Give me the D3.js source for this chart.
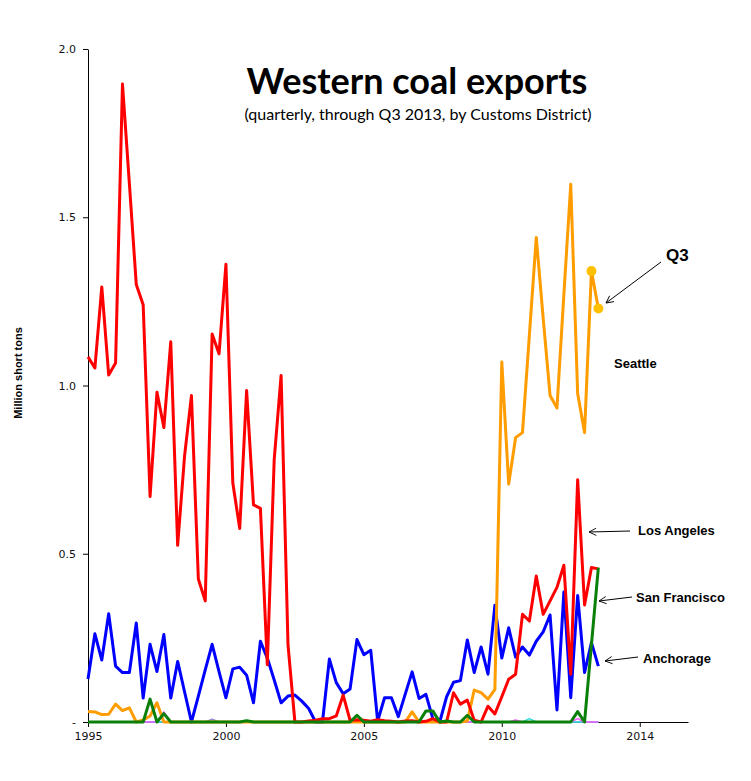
<!DOCTYPE html>
<html>
<head>
<meta charset="utf-8">
<script src="https://cdn.jsdelivr.net/npm/d3@7"></script>
<style>
  body { margin: 0; background: #fff; }
</style>
</head>
<body>
<div id="chart"></div>
<script>
// Quarterly categories, 1995Q1 .. 2016Q4 (axis runs past the data like the original)
var quarters = d3.range(1995, 2017).flatMap(y => [1, 2, 3, 4].map(q => y + "Q" + q));

// Tick labels shown every 20 quarters
var tickLabels = ["1995", "2000", "2005", "2010", "2014"];

// Million short tons, 1995Q1 .. 2013Q3
var seattle = [0.031, 0.030, 0.022, 0.023, 0.053, 0.034, 0.042, 0.000, 0.006, 0.018,
    0.057, 0.000, 0, 0, 0, 0, 0, 0, 0, 0,
    0, 0, 0, 0, 0, 0, 0, 0, 0, 0,
    0, 0, 0, 0, 0, 0, 0, 0, 0, 0,
    0, 0, 0, 0, 0, 0, 0, 0.030, 0, 0,
    0, 0, 0, 0, 0, 0.003, 0.095, 0.087, 0.068, 0.097,
    1.070, 0.707, 0.845, 0.860, 1.150, 1.440, 1.200, 0.970, 0.933, 1.270,
    1.598, 0.976, 0.860, 1.340, 1.229];

var losAngeles = [1.085, 1.052, 1.293, 1.031, 1.067, 1.896, 1.600, 1.300, 1.240, 0.670,
    0.980, 0.875, 1.130, 0.525, 0.790, 0.970, 0.425, 0.360, 1.153, 1.094,
    1.360, 0.710, 0.575, 0.985, 0.645, 0.635, 0.170, 0.780, 1.030, 0.230,
    0.000, 0.000, 0.003, 0.005, 0.010, 0.010, 0.018, 0.080, 0.005, 0.007,
    0.005, 0.002, 0.007, 0.004, 0.002, 0.000, 0.003, 0.004, 0.000, 0.002,
    0.010, 0.000, 0.000, 0.087, 0.053, 0.065, 0.005, 0.000, 0.047, 0.024,
    0.075, 0.127, 0.142, 0.320, 0.300, 0.434, 0.320, 0.360, 0.400, 0.466,
    0.142, 0.720, 0.348, 0.459, 0.455];

var anchorage = [0.128, 0.262, 0.184, 0.322, 0.166, 0.147, 0.147, 0.294, 0.071, 0.231,
    0.150, 0.260, 0.071, 0.180, 0.090, 0.000, 0.077, 0.155, 0.231, 0.150,
    0.072, 0.158, 0.163, 0.139, 0.057, 0.240, 0.190, 0.125, 0.057, 0.077,
    0.080, 0.062, 0.040, 0.000, 0.000, 0.187, 0.117, 0.084, 0.098, 0.245,
    0.200, 0.213, 0.003, 0.072, 0.072, 0.016, 0.083, 0.149, 0.070, 0.082,
    0.010, 0.000, 0.075, 0.118, 0.123, 0.244, 0.147, 0.223, 0.142, 0.347,
    0.190, 0.280, 0.193, 0.223, 0.199, 0.240, 0.268, 0.318, 0.036, 0.386,
    0.072, 0.376, 0.147, 0.236, 0.166];

var sanFrancisco = [0, 0, 0, 0, 0, 0, 0, 0, 0, 0.068,
    0, 0.025, 0, 0, 0, 0, 0, 0, 0, 0,
    0, 0, 0, 0.004, 0, 0, 0, 0, 0, 0,
    0, 0, 0, 0, 0, 0, 0, 0, 0, 0.020,
    0, 0, 0, 0, 0, 0, 0, 0, 0, 0.033,
    0.033, 0, 0.003, 0, 0, 0.020, 0, 0, 0, 0,
    0, 0, 0, 0, 0, 0, 0, 0, 0, 0,
    0, 0.031, 0, 0.230, 0.459];

// Small districts that stay near zero
var otherPink = [0, 0, 0, 0, 0, 0, 0, 0, 0, 0,
    0, 0.030, 0, 0, 0, 0, 0, 0, 0, 0,
    0, 0, 0, 0, 0, 0, 0, 0, 0, 0,
    0, 0, 0, 0, 0.012, 0, 0, 0, 0, 0,
    0, 0, 0, 0, 0, 0, 0, 0, 0, 0,
    0, 0, 0, 0, 0, 0, 0, 0, 0, 0,
    0, 0, 0.006, 0, 0, 0, 0, 0, 0, 0,
    0, 0.010, 0, 0, 0];

var otherCyan = [0, 0, 0, 0, 0, 0, 0, 0, 0, 0,
    0, 0, 0, 0, 0, 0, 0, 0, 0, 0,
    0, 0, 0, 0, 0, 0, 0, 0, 0, 0,
    0, 0, 0, 0, 0, 0, 0, 0, 0, 0,
    0, 0, 0, 0, 0, 0, 0, 0, 0, 0,
    0, 0, 0, 0, 0, 0, 0, 0, 0, 0,
    0, 0, 0, 0, 0.010, 0, 0, 0, 0, 0,
    0, 0, 0, 0, 0];

var otherPurple = [0, 0, 0, 0, 0, 0, 0, 0, 0, 0,
    0, 0, 0, 0, 0, 0, 0, 0, 0.008, 0,
    0, 0, 0, 0, 0, 0, 0, 0, 0, 0,
    0, 0, 0, 0, 0, 0, 0, 0, 0, 0,
    0, 0, 0, 0, 0, 0, 0, 0, 0, 0,
    0, 0, 0, 0, 0, 0, 0, 0, 0, 0,
    0, 0, 0, 0, 0, 0, 0, 0, 0, 0,
    0, 0, 0, 0, 0];

// Seattle quarters highlighted with dots (2013Q2, 2013Q3)
var highlightQuarters = ["2013Q2", "2013Q3"];

// Define svg size
var svgWidth = 751;
var svgHeight = 781;

// Plot area edges
var plot = { left: 88, right: 688, top: 49, bottom: 722 };

var svg = d3.select("#chart")
    .append("svg")
    .attr("width", svgWidth)
    .attr("height", svgHeight);

// Scales
var xScale = d3.scalePoint()
    .domain(quarters)
    .range([plot.left, plot.right]);

var yScale = d3.scaleLinear()
    .domain([0, 2])
    .range([plot.bottom, plot.top]);

// Axes
var xTicks = quarters.filter((q, i) => i % 20 == 0);

var bottomAxis = d3.axisBottom(xScale)
    .tickValues(xTicks)
    .tickFormat((d, i) => tickLabels[i])
    .tickSize(5)
    .tickSizeOuter(0)
    .tickPadding(5);

var leftAxis = d3.axisLeft(yScale)
    .tickValues([0, 0.5, 1, 1.5, 2])
    .tickFormat(d => d == 0 ? "-" : d.toFixed(1))
    .tickSize(5)
    .tickSizeOuter(0)
    .tickPadding(7);

var xAxisG = svg.append("g")
    .attr("transform", `translate(0, ${plot.bottom})`)
    .call(bottomAxis);

var yAxisG = svg.append("g")
    .attr("transform", `translate(${plot.left}, 0)`)
    .call(leftAxis);

[xAxisG, yAxisG].forEach(g => {
    g.selectAll("path, line").attr("stroke", "#000");
    g.selectAll("text")
        .attr("font-family", "DejaVu Sans")
        .attr("font-size", "11px")
        .attr("fill", "#111");
});

// Lines
var line = d3.line()
    .x(d => xScale(d[0]))
    .y(d => yScale(d[1]));

var seriesList = [
    { values: otherPurple, color: "#9a8ad0", width: 1.5 },
    { values: otherCyan, color: "#33dddd", width: 1.5 },
    { values: otherPink, color: "#ff55ff", width: 1.5 },
    { values: anchorage, color: "#0000ff", width: 3 },
    { values: seattle, color: "#ff9c00", width: 3 },
    { values: losAngeles, color: "#ff0000", width: 3 },
    { values: sanFrancisco, color: "#0a800a", width: 3 }
];

seriesList.forEach(s => {
    svg.append("path")
        .datum(s.values.map((v, i) => [quarters[i], v]))
        .attr("d", line)
        .attr("fill", "none")
        .attr("stroke", s.color)
        .attr("stroke-width", s.width)
        .attr("stroke-linejoin", "round");
});

// Highlight dots for latest Seattle quarters
svg.selectAll(".q3-dot")
    .data(highlightQuarters)
    .enter()
    .append("circle")
    .attr("cx", d => xScale(d))
    .attr("cy", d => yScale(seattle[quarters.indexOf(d)]))
    .attr("r", 5)
    .attr("fill", "#ffc000")
    .classed("q3-dot", true);

// Title
svg.append("text")
    .attr("x", 417)
    .attr("y", 94)
    .attr("text-anchor", "middle")
    .attr("font-family", "Lato")
    .attr("font-weight", "bold")
    .attr("font-size", "36px")
    .text("Western coal exports");

svg.append("text")
    .attr("x", 418)
    .attr("y", 120)
    .attr("text-anchor", "middle")
    .attr("font-family", "Lato")
    .attr("font-size", "16px")
    .text("(quarterly, through Q3 2013, by Customs District)");

// Y axis title
svg.append("text")
    .attr("transform", "translate(22, 373) rotate(-90)")
    .attr("text-anchor", "middle")
    .attr("font-family", "Liberation Sans")
    .attr("font-weight", "bold")
    .attr("font-size", "11px")
    .text("Million short tons");

// Arrow head (open V, tip at the end of the line)
svg.append("defs")
    .append("marker")
    .attr("id", "arrow")
    .attr("viewBox", "0 0 10 10")
    .attr("refX", 9)
    .attr("refY", 5)
    .attr("markerWidth", 9)
    .attr("markerHeight", 9)
    .attr("markerUnits", "userSpaceOnUse")
    .attr("orient", "auto")
    .append("path")
    .attr("d", "M1,1 L9,5 L1,9")
    .attr("fill", "none")
    .attr("stroke", "#000")
    .attr("stroke-width", 1);

// Annotations: label position and arrow from -> to
var notes = [
    { text: "Q3", x: 666, y: 261, size: 17, arrow: [661, 262, 606, 303] },
    { text: "Seattle", x: 614, y: 368, size: 13, arrow: null },
    { text: "Los Angeles", x: 638, y: 535, size: 13, arrow: [630, 531, 589, 532] },
    { text: "San Francisco", x: 636, y: 602, size: 13, arrow: [632, 597, 599, 601] },
    { text: "Anchorage", x: 643, y: 663, size: 13, arrow: [638, 657, 605, 661] }
];

notes.forEach(n => {
    svg.append("text")
        .attr("x", n.x)
        .attr("y", n.y)
        .attr("font-family", "Liberation Sans")
        .attr("font-weight", "bold")
        .attr("font-size", n.size + "px")
        .text(n.text);

    if (n.arrow) {
        svg.append("line")
            .attr("x1", n.arrow[0])
            .attr("y1", n.arrow[1])
            .attr("x2", n.arrow[2])
            .attr("y2", n.arrow[3])
            .attr("stroke", "#000")
            .attr("stroke-width", 1)
            .attr("marker-end", "url(#arrow)");
    }
});
</script>
</body>
</html>
